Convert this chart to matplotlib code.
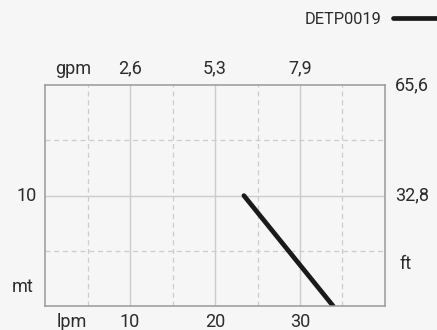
import matplotlib.pyplot as plt
from matplotlib.ticker import FixedLocator

plt.rcParams['font.family'] = ['Roboto', 'DejaVu Sans']

# pump curve (flow in lpm, head in mt)
flow_lpm = [23.4, 33.9]
head_mt = [10, 0]
series_name = "DETP0019"

lpm_ticks = [10, 20, 30]
gpm_labels = ["2,6", "5,3", "7,9"]
mt_ticks = [10]
ft_ticks = [20, 10]
ft_labels = ["65,6", "32,8"]

bg = "#f6f6f6"
txt = "#2b2b2b"

fig = plt.figure(figsize=(4.37, 3.30), dpi=100, facecolor=bg)
ax = fig.add_axes([0.103, 0.0727, 0.778, 0.669], facecolor=bg)

ax.set_xlim(0, 40)
ax.set_ylim(0, 20)

# solid grid on whole units, dashed on the halves
ax.xaxis.set_major_locator(FixedLocator([10, 20, 30]))
ax.xaxis.set_minor_locator(FixedLocator([5, 15, 25, 35]))
ax.yaxis.set_major_locator(FixedLocator([10]))
ax.yaxis.set_minor_locator(FixedLocator([5, 15]))
ax.grid(which='major', color='#cccccc', linewidth=1.0)
ax.grid(which='minor', color='#cccccc', linewidth=0.9, linestyle=(0, (4, 3)))
ax.tick_params(which='both', length=0, labelbottom=False, labelleft=False)
for s in ax.spines.values():
    s.set_color('#999999')
    s.set_linewidth(1.1)

ax.plot(flow_lpm, head_mt, color='#1a1a1a', linewidth=3.4,
        solid_capstyle='round', label=series_name, clip_on=True)

fs = 13
for v in lpm_ticks:
    ax.text(v, -1.45, str(v), ha='center', va='center', fontsize=fs, color=txt, clip_on=False)
for v, lab in zip(lpm_ticks, gpm_labels):
    ax.text(v, 21.5, lab, ha='center', va='center', fontsize=fs, color=txt, clip_on=False)
for v in mt_ticks:
    ax.text(-1.0, v, str(v), ha='right', va='center', fontsize=fs, color=txt, clip_on=False)
for v, lab in zip(ft_ticks, ft_labels):
    ax.text(41.2, v, lab, ha='left', va='center', fontsize=fs, color=txt, clip_on=False)

ax.text(3.2, -1.45, "lpm", ha='center', va='center', fontsize=fs, color=txt, clip_on=False)
ax.text(3.3, 21.5, "gpm", ha='center', va='center', fontsize=fs, color=txt, clip_on=False)
ax.text(-2.6, 1.7, "mt", ha='center', va='center', fontsize=fs, color=txt, clip_on=False)
ax.text(41.7, 3.8, "ft", ha='left', va='center', fontsize=fs, color=txt, clip_on=False)

leg = ax.legend(loc='center right', bbox_to_anchor=(1.05, 0.942),
                bbox_transform=fig.transFigure, frameon=False,
                markerfirst=False, handlelength=3.1, handletextpad=0.7,
                fontsize=11.8)
for t in leg.get_texts():
    t.set_color(txt)

fig.savefig("out.png", dpi=100, facecolor=bg)
